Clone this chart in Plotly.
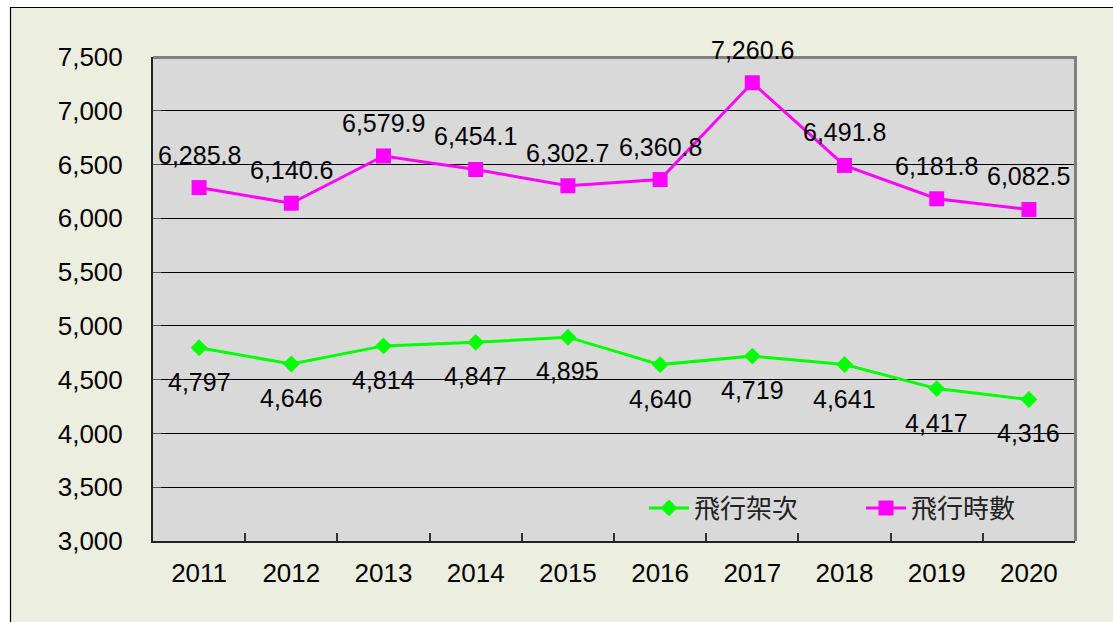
import plotly.graph_objects as go

years = ["2011", "2012", "2013", "2014", "2015", "2016", "2017", "2018", "2019", "2020"]
flights = [4797, 4646, 4814, 4847, 4895, 4640, 4719, 4641, 4417, 4316]
hours = [6285.8, 6140.6, 6579.9, 6454.1, 6302.7, 6360.8, 7260.6, 6491.8, 6181.8, 6082.5]
name_flights = "飛行架次"
name_hours = "飛行時數"
y_ticks = [3000, 3500, 4000, 4500, 5000, 5500, 6000, 6500, 7000, 7500]

W, H = 1113, 622
L, R, T, B = 153, 1075, 57, 541
pw, ph = R - L, B - T

FONT = "Liberation Sans, Arial, sans-serif"
CJK = "Noto Sans CJK TC, sans-serif"

fig = go.Figure()
fig.add_trace(go.Scatter(
    x=years, y=flights, name=name_flights, mode="lines+markers",
    line=dict(color="#00FF00", width=3),
    marker=dict(symbol="diamond", size=13, color="#00FF00"),
))
fig.add_trace(go.Scatter(
    x=years, y=hours, name=name_hours, mode="lines+markers",
    line=dict(color="#FF00FF", width=3),
    marker=dict(symbol="square", size=15, color="#FF00FF"),
))

annotations = []
for i, v in enumerate(hours):
    annotations.append(dict(x=i, y=v, xref="x", yref="y", text=f"{v:,.1f}", showarrow=False,
                            yshift=33, font=dict(family=FONT, size=25, color="black")))
for i, v in enumerate(flights):
    annotations.append(dict(x=i, y=v, xref="x", yref="y", text=f"{v:,d}", showarrow=False,
                            yshift=-34, font=dict(family=FONT, size=25, color="black")))

def px(xp):
    return (xp - L) / pw

def py(yp):
    return (B - yp) / ph

shapes = [
    dict(type="rect", xref="paper", yref="paper", x0=px(0), x1=px(10), y0=py(H), y1=py(0),
         fillcolor="white", line=dict(width=0), layer="below"),
    dict(type="rect", xref="paper", yref="paper", x0=px(0), x1=px(W), y0=py(7), y1=py(0),
         fillcolor="white", line=dict(width=0), layer="below"),
    dict(type="line", xref="paper", yref="paper", x0=px(10), x1=px(W), y0=py(7.5), y1=py(7.5),
         line=dict(color="black", width=1.2)),
    dict(type="line", xref="paper", yref="paper", x0=px(10.5), x1=px(10.5), y0=py(7), y1=py(H),
         line=dict(color="black", width=1.2)),
    dict(type="line", xref="paper", yref="paper", x0=0, x1=px(R + 1.5), y0=py(T + 0.5), y1=py(T + 0.5),
         line=dict(color="#808080", width=3)),
    dict(type="line", xref="paper", yref="paper", x0=px(R + 0.5), x1=px(R + 0.5), y0=py(T - 1), y1=0,
         line=dict(color="#808080", width=3)),
]

fig.update_layout(
    width=W, height=H,
    margin=dict(l=L, r=W - R, t=T, b=H - B, pad=0, autoexpand=False),
    paper_bgcolor="#ECEFDF",
    plot_bgcolor="#D9D9D9",
    showlegend=True,
    legend=dict(orientation="h", x=px(644), y=py(508), xanchor="left", yanchor="middle",
                bgcolor="rgba(0,0,0,0)", font=dict(family=CJK, size=26, color="#222222"),
                itemwidth=40, entrywidth=162, entrywidthmode="pixels", traceorder="normal"),
    annotations=annotations,
    shapes=shapes,
    xaxis=dict(
        type="category", range=[-0.5, 9.5], tickson="boundaries",
        ticks="inside", ticklen=8, tickcolor="#333333", tickwidth=1.5,
        showline=True, linecolor="#222222", linewidth=2,
        showgrid=False, ticklabelstandoff=8, automargin=False,
        tickfont=dict(family=FONT, size=26, color="black"),
    ),
    yaxis=dict(
        range=[3000, 7500], tickvals=y_ticks, tickformat=",",
        ticks="inside", ticklen=8, tickcolor="#555555",
        showline=True, linecolor="#222222", linewidth=2,
        showgrid=True, gridcolor="black", gridwidth=1,
        zeroline=False, ticklabelstandoff=23, automargin=False,
        tickfont=dict(family=FONT, size=26, color="black"),
    ),
)

fig.write_html("out.html", config={"displayModeBar": False},
               post_script="document.body.style.margin='0';")
